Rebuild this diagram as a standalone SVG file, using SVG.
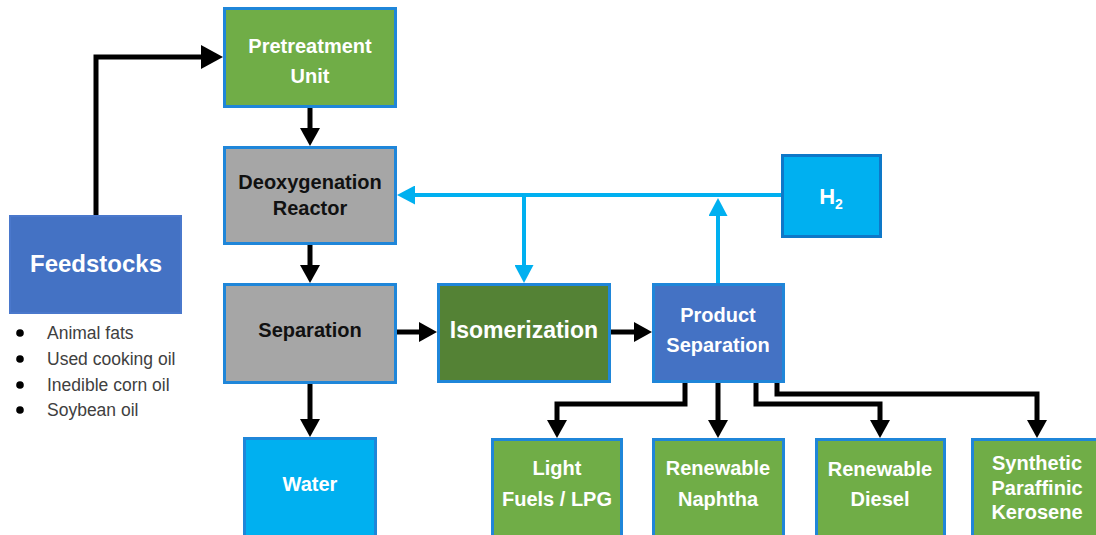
<svg xmlns="http://www.w3.org/2000/svg" width="1096" height="535" viewBox="0 0 1096 535">
<style>
  .box { stroke: #1F86D9; stroke-width: 3; }
  .green { fill: #70AD47; }
  .dkgreen { fill: #548235; }
  .gray { fill: #A6A6A6; }
  .blue { fill: #4472C4; }
  .cyan { fill: #00B0F0; }
  .t { font-family: "Liberation Sans", Arial, sans-serif; font-weight: bold; font-size: 20px; text-anchor: middle; fill: #FFFFFF; }
  .tk { fill: #111111; }
  .blk { fill: none; stroke: #000000; stroke-width: 5; }
  .cy { fill: none; stroke: #00B0F0; stroke-width: 4; }
  .li { font-family: "Liberation Sans", Arial, sans-serif; font-size: 17.5px; fill: #404040; }
</style>
<defs>
  <marker id="ab" viewBox="0 0 18 20" markerWidth="18" markerHeight="20" refX="8" refY="10" orient="auto" markerUnits="userSpaceOnUse">
    <path d="M0,0 L18,10 L0,20 Z" fill="#000000"/>
  </marker>
  <marker id="abL" viewBox="0 0 22 24" markerWidth="22" markerHeight="24" refX="10" refY="12" orient="auto" markerUnits="userSpaceOnUse">
    <path d="M0,0 L22,12 L0,24 Z" fill="#000000"/>
  </marker>
  <marker id="ac" viewBox="0 0 18 19" markerWidth="18" markerHeight="19" refX="8" refY="9.5" orient="auto" markerUnits="userSpaceOnUse">
    <path d="M0,0 L18,9.5 L0,19 Z" fill="#00B0F0"/>
  </marker>
</defs>

<g id="connectors">
  <path class="blk" d="M96,216 V57 H211" stroke-width="6" marker-end="url(#abL)"/>
  <path class="blk" d="M310,108 V136" marker-end="url(#ab)"/>
  <path class="blk" d="M310,245 V273" marker-end="url(#ab)"/>
  <path class="blk" d="M310,384 V427" marker-end="url(#ab)"/>
  <path class="blk" d="M397,332 H427" marker-end="url(#ab)"/>
  <path class="blk" d="M611,332 H642" marker-end="url(#ab)"/>
  <path class="blk" d="M685,383 V404 H557 V428" marker-end="url(#ab)"/>
  <path class="blk" d="M718,383 V428" marker-end="url(#ab)"/>
  <path class="blk" d="M756,383 V404 H880 V428" marker-end="url(#ab)"/>
  <path class="blk" d="M777,383 V394 H1037 V428" marker-end="url(#ab)"/>
  <path class="cy" d="M781,195 H407" marker-end="url(#ac)"/>
  <path class="cy" d="M524,195 V273" marker-end="url(#ac)"/>
  <path class="cy" d="M718,283 V208" marker-end="url(#ac)"/>
</g>

<g id="pretreatment">
  <rect class="box green" x="224.5" y="8.5" width="171" height="98"/>
  <text class="t" x="310" y="53">Pretreatment</text>
  <text class="t" x="310" y="83">Unit</text>
</g>
<g id="deoxygenation">
  <rect class="box gray" x="224.5" y="147.5" width="171" height="96"/>
  <text class="t tk" x="310" y="189">Deoxygenation</text>
  <text class="t tk" x="310" y="215">Reactor</text>
</g>
<g id="feedstocks">
  <rect class="blue" x="10" y="216" width="171" height="97" stroke="#4A78CC" stroke-width="2"/>
  <text class="t" x="96" y="272" style="font-size:24px">Feedstocks</text>
</g>
<g id="feedstock-list">
  <circle cx="20" cy="333" r="3.8" fill="#000"/>
  <circle cx="20" cy="359" r="3.8" fill="#000"/>
  <circle cx="20" cy="385" r="3.8" fill="#000"/>
  <circle cx="20" cy="410" r="3.8" fill="#000"/>
  <text class="li" x="47" y="339">Animal fats</text>
  <text class="li" x="47" y="365">Used cooking oil</text>
  <text class="li" x="47" y="391">Inedible corn oil</text>
  <text class="li" x="47" y="416">Soybean oil</text>
</g>
<g id="separation">
  <rect class="box gray" x="224.5" y="284.5" width="171" height="98"/>
  <text class="t tk" x="310" y="337">Separation</text>
</g>
<g id="water">
  <rect class="box cyan" x="244.5" y="438.5" width="131" height="110"/>
  <text class="t" x="310" y="491">Water</text>
</g>
<g id="isomerization">
  <rect class="box dkgreen" x="438.5" y="284.5" width="171" height="97"/>
  <text class="t" x="524" y="338" style="font-size:23px">Isomerization</text>
</g>
<g id="product-separation">
  <rect class="box blue" x="653.5" y="284.5" width="130" height="97"/>
  <text class="t" x="718" y="322">Product</text>
  <text class="t" x="718" y="352">Separation</text>
</g>
<g id="h2">
  <rect class="cyan" x="782.5" y="155.5" width="98" height="81" stroke="#0E78C8" stroke-width="3"/>
  <text class="t" x="831" y="204" style="font-size:22px">H<tspan style="font-size:14px" dy="5">2</tspan></text>
</g>
<g id="light-fuels">
  <rect class="box green" x="492.5" y="439.5" width="129" height="110"/>
  <text class="t" x="557" y="475">Light</text>
  <text class="t" x="557" y="506">Fuels / LPG</text>
</g>
<g id="renewable-naphtha">
  <rect class="box green" x="653.5" y="439.5" width="130" height="110"/>
  <text class="t" x="718" y="475">Renewable</text>
  <text class="t" x="718" y="506">Naphtha</text>
</g>
<g id="renewable-diesel">
  <rect class="box green" x="816.5" y="439.5" width="128" height="110"/>
  <text class="t" x="880" y="476">Renewable</text>
  <text class="t" x="880" y="506">Diesel</text>
</g>
<g id="spk">
  <rect class="box green" x="972.5" y="439.5" width="130" height="110"/>
  <text class="t" x="1037" y="470">Synthetic</text>
  <text class="t" x="1037" y="495">Paraffinic</text>
  <text class="t" x="1037" y="519">Kerosene</text>
</g>
</svg>
